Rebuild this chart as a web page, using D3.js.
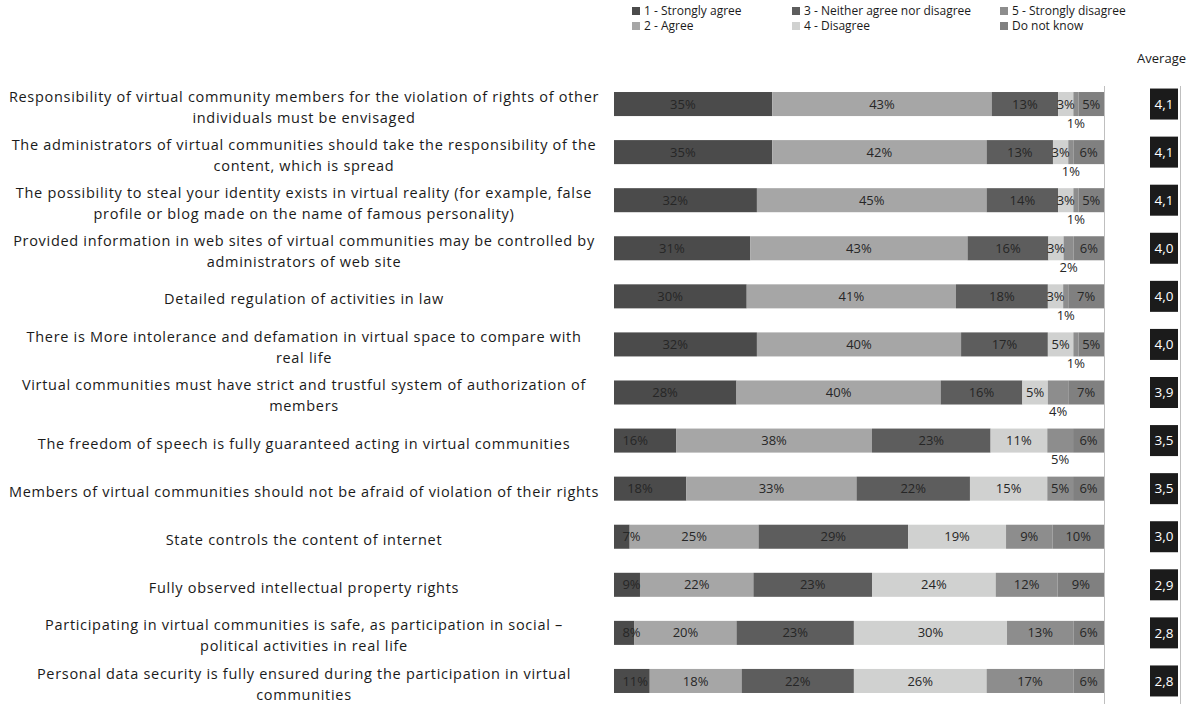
<!DOCTYPE html>
<html>
<head>
<meta charset="utf-8">
<script src="https://cdn.jsdelivr.net/npm/d3@7"></script>
<style>
  body { margin: 0; background: #fff; }
  svg { display: block; font-family: "Open Sans", sans-serif; }
</style>
</head>
<body>
<svg id="chart" width="1188" height="704"></svg>
<script>
// survey statements, "\n" marks the line break used in the original
var categories = [
  "Responsibility of virtual community members for the violation of rights of other\nindividuals must be envisaged",
  "The administrators of virtual communities should take the responsibility of the\ncontent, which is spread",
  "The possibility to steal your identity exists in virtual reality (for example, false\nprofile or blog made on the name of famous personality)",
  "Provided information in web sites of virtual communities may be controlled by\nadministrators of web site",
  "Detailed regulation of activities in law",
  "There is  More intolerance and defamation in virtual space to compare with\nreal life",
  "Virtual communities must have strict and trustful system of authorization of\nmembers",
  "The freedom of speech is fully guaranteed acting in virtual communities",
  "Members of virtual communities should not be afraid of violation of their rights",
  "State controls the content of internet",
  "Fully observed intellectual property rights",
  "Participating in virtual communities is safe, as participation in social \u2013\npolitical activities in real life",
  "Personal data security is fully ensured during the participation in virtual\ncommunities"
];

var seriesNames = ["1 - Strongly agree", "2 - Agree", "3 - Neither agree nor disagree",
                   "4 - Disagree", "5 - Strongly disagree", "Do not know"];

var stronglyAgree    = [35, 35, 32, 31, 30, 32, 28, 16, 18, 7, 9, 8, 11];
var agree            = [43, 42, 45, 43, 41, 40, 40, 38, 33, 25, 22, 20, 18];
var neither          = [13, 13, 14, 16, 18, 17, 16, 23, 22, 29, 23, 23, 22];
var disagree         = [3, 3, 3, 3, 3, 5, 5, 11, 15, 19, 24, 30, 26];
var stronglyDisagree = [1, 1, 1, 2, 1, 1, 4, 5, 5, 9, 12, 13, 17];
var doNotKnow        = [5, 6, 5, 6, 7, 5, 7, 6, 6, 10, 9, 6, 6];

var averages = [4.1, 4.1, 4.1, 4.0, 4.0, 4.0, 3.9, 3.5, 3.5, 3.0, 2.9, 2.8, 2.8];

var colors = ["#4b4b4b", "#a6a6a6", "#5d5d5d", "#d0d1d0", "#8d8d8d", "#808080"];

// build rows for d3.stack
var keys = d3.range(seriesNames.length);
var allSeries = [stronglyAgree, agree, neither, disagree, stronglyDisagree, doNotKnow];
var rows = categories.map(function(c, i) {
  var r = { idx: i };
  keys.forEach(function(k) { r[k] = allSeries[k][i]; });
  return r;
});

var stacked = d3.stack().keys(keys).offset(d3.stackOffsetExpand)(rows);

var svg = d3.select("#chart");

var plotLeft = 614, plotRight = 1104;

// the original axis starts a little above zero, so the first segment is cut
var x = d3.scaleLinear().domain([0.04, 1]).range([plotLeft, plotRight]);
var y = d3.scaleBand().domain(d3.range(categories.length))
  .range([80, 705]).paddingInner(0.5).paddingOuter(0.25);

svg.append("clipPath").attr("id", "plotclip")
  .append("rect").attr("x", plotLeft).attr("y", 0)
  .attr("width", plotRight - plotLeft).attr("height", 704);

// frame lines
svg.append("line").attr("x1", 1104.5).attr("x2", 1104.5).attr("y1", 86).attr("y2", 704)
  .attr("stroke", "#bfbfbf");
svg.append("line").attr("x1", 1180.5).attr("x2", 1180.5).attr("y1", 86).attr("y2", 704)
  .attr("stroke", "#bfbfbf");

// bars
var bars = svg.append("g").attr("clip-path", "url(#plotclip)");
bars.selectAll("g")
  .data(stacked)
  .enter().append("g")
  .attr("fill", function(d) { return colors[d.key]; })
  .selectAll("rect")
  .data(function(d) { return d; })
  .enter().append("rect")
  .attr("x", function(d) { return x(d[0]); })
  .attr("width", function(d) { return x(d[1]) - x(d[0]); })
  .attr("y", function(d) { return y(d.data.idx); })
  .attr("height", y.bandwidth());

// value labels
var labelsBelow = 8; // rows where the "5 - Strongly disagree" label sits under the bar
var lab = svg.append("g").attr("font-size", 13).attr("fill", "#262626")
  .attr("text-anchor", "middle");

stacked.forEach(function(s) {
  s.forEach(function(d) {
    var i = d.data.idx;
    var txt = d.data[s.key] + "%";
    var cx = (x(d[0]) + x(d[1])) / 2;
    var cy = y(i) + y.bandwidth() / 2;
    var w = txt.length * 7.5;
    if (cx - w / 2 < plotLeft + 10) cx = plotLeft + 10 + w / 2;
    if (s.key == 4 && i < labelsBelow) cy += 19;
    lab.append("text")
      .attr("x", cx).attr("y", cy)
      .attr("dy", "0.35em")
      .text(txt);
  });
});

// category labels
var cat = svg.append("g").attr("font-size", 14.5).attr("fill", "#1a1a1a")
  .attr("letter-spacing", 0.7)
  .attr("text-anchor", "middle").style("white-space", "pre");

categories.forEach(function(c, i) {
  var lines = c.split("\n");
  var cy = y(i) + y.bandwidth() / 2 + 3;
  lines.forEach(function(line, j) {
    cat.append("text")
      .attr("x", 304)
      .attr("y", cy + (j - (lines.length - 1) / 2) * 21)
      .attr("dy", "0.35em")
      .text(line);
  });
});

// average boxes
var avg = svg.append("g");
avg.selectAll("rect")
  .data(averages)
  .enter().append("rect")
  .attr("x", 1150).attr("width", 28)
  .attr("y", function(d, i) { return y(i) + y.bandwidth() / 2 - 15.5; })
  .attr("height", 31)
  .attr("fill", "#1b1b1b");
avg.selectAll("text")
  .data(averages)
  .enter().append("text")
  .attr("x", 1164)
  .attr("y", function(d, i) { return y(i) + y.bandwidth() / 2; })
  .attr("dy", "0.35em")
  .attr("text-anchor", "middle")
  .attr("font-size", 13.5)
  .attr("fill", "#fff")
  .text(function(d) { return d.toFixed(1).replace(".", ","); });

svg.append("text").attr("x", 1186).attr("y", 58).attr("dy", "0.35em")
  .attr("text-anchor", "end").attr("font-size", 13).attr("fill", "#1a1a1a")
  .text("Average");

// legend, two rows
var legendX = [632, 792, 1000], legendY = [11, 26];
var legend = svg.append("g").attr("font-size", 12).attr("fill", "#1a1a1a");
seriesNames.forEach(function(name, i) {
  var lx = legendX[Math.floor(i / 2)], ly = legendY[i % 2];
  legend.append("rect").attr("x", lx).attr("y", ly - 4)
    .attr("width", 8).attr("height", 8).attr("fill", colors[i]);
  legend.append("text").attr("x", lx + 12).attr("y", ly).attr("dy", "0.35em")
    .text(name);
});
</script>
</body>
</html>
